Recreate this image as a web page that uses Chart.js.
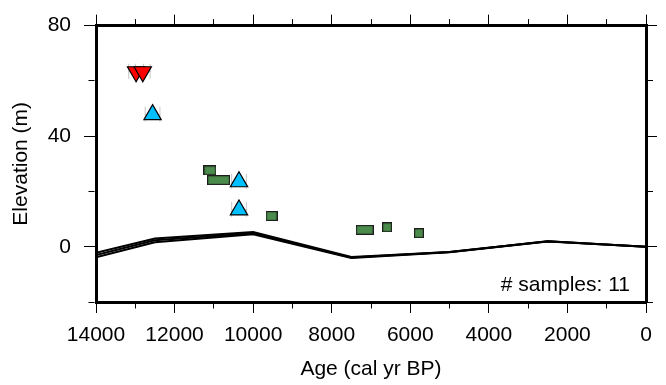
<!DOCTYPE html>
<html>
<head>
<meta charset="utf-8">
<script src="https://cdn.jsdelivr.net/npm/chart.js@4.4.0/dist/chart.umd.min.js"></script>
<style>
  body { margin: 0; background: #fff; }
</style>
</head>
<body>
<canvas id="sealevel" width="666" height="385"></canvas>
<script>
// modelled sea-level curve (three runs)
var curveAge  = [14000, 12500, 10000, 7500, 5000, 2500, 0];
var curveHigh = [-2.2, 3.0, 5.3, -3.7, -1.9, 2.0, 0.0];
var curveMid  = [-3.0, 2.3, 4.9, -3.9, -1.9, 2.0, 0.0];
var curveLow  = [-3.8, 1.6, 4.5, -4.1, -2.0, 1.9, 0.0];

// samples
var redAge   = [12980, 12810];
var redElev  = [63.3, 63.3];
var blueAge  = [12560, 10360, 10360];
var blueElev = [47.8, 23.5, 13.3];
var greenAge     = [11100, 10880, 9530, 7160, 6590, 5780];
var greenElev    = [27.6, 24.1, 11.1, 6.1, 7.0, 4.9];
var greenAgeSpan = [330, 590, 300, 460, 250, 250];
var triAgeErr = 200;

// tick labels
var ageTickLabels  = [14000, 12000, 10000, 8000, 6000, 4000, 2000, 0];
var elevTickLabels = [80, 40, 0];

Chart.defaults.font.family = 'Liberation Sans';
Chart.defaults.font.size = 21;
Chart.defaults.color = '#000';

function pts(xs, ys) {
    return xs.map(function (x, i) { return { x: x, y: ys[i] }; });
}

function isMajorAge(v) { return ageTickLabels.indexOf(v) >= 0; }
function isMajorElev(v) { return elevTickLabels.indexOf(v) >= 0; }

// green boxes are as wide as their age span
function boxStyle(ctx) {
    if (ctx.dataIndex === undefined) return 'rect';
    var xs = ctx.chart.scales.x;
    var a = greenAge[ctx.dataIndex], s = greenAgeSpan[ctx.dataIndex];
    var w = Math.round(Math.abs(xs.getPixelForValue(a + s / 2) - xs.getPixelForValue(a - s / 2)));
    if (!isFinite(w) || w < 4) w = 10;
    var h = 10;
    var cv = document.createElement('canvas');
    cv.width = w; cv.height = h;
    var c = cv.getContext('2d');
    c.fillStyle = '#4b8b4b';
    c.fillRect(0, 0, w, h);
    c.strokeStyle = '#1c1c1c';
    c.lineWidth = 1.2;
    c.strokeRect(0.6, 0.6, w - 1.2, h - 1.2);
    return cv;
}

var errorBars = {
    id: 'errorBars',
    beforeDatasetsDraw: function (chart) {
        var c = chart.ctx, xs = chart.scales.x, ys = chart.scales.y;
        var ages = redAge.concat(blueAge), elevs = redElev.concat(blueElev);
        c.save();
        c.strokeStyle = '#c6c6c6';
        c.lineWidth = 1;
        ages.forEach(function (a, i) {
            var y = ys.getPixelForValue(elevs[i]);
            var x1 = xs.getPixelForValue(a + triAgeErr), x2 = xs.getPixelForValue(a - triAgeErr);
            c.beginPath();
            c.moveTo(x1, y); c.lineTo(x2, y);
            c.moveTo(x1 + 0.5, y - 8); c.lineTo(x1 + 0.5, y + 7);
            c.moveTo(x2 - 0.5, y - 8); c.lineTo(x2 - 0.5, y + 7);
            c.stroke();
        });
        c.restore();
    }
};

var sampleCount = {
    id: 'sampleCount',
    afterDraw: function (chart) {
        var c = chart.ctx, area = chart.chartArea;
        var n = redAge.length + blueAge.length + greenAge.length;
        c.save();
        c.font = '21px "Liberation Sans"';
        c.fillStyle = '#000';
        c.textAlign = 'right';
        c.textBaseline = 'alphabetic';
        c.fillText('# samples: ' + n, area.right - 16, area.bottom - 11.5);
        c.restore();
    }
};

function curve(vals) {
    return {
        data: pts(curveAge, vals),
        showLine: true,
        borderColor: '#000',
        borderWidth: 2,
        pointRadius: 0,
        order: 5
    };
}

var frame = { display: true, color: '#000', width: 3 };

var ctx = document.getElementById('sealevel').getContext('2d');

var sealevelChart = new Chart(ctx, {
    type: 'scatter',
    data: {
        datasets: [
            curve(curveHigh),
            curve(curveMid),
            curve(curveLow),
            {
                data: pts(greenAge, greenElev),
                pointStyle: boxStyle,
                pointRadius: 5,
                order: 3
            },
            {
                data: pts(blueAge, blueElev),
                pointStyle: 'triangle',
                pointRadius: 10,
                backgroundColor: '#00bfff',
                borderColor: '#000',
                borderWidth: 1.2,
                order: 2
            },
            {
                data: pts(redAge, redElev),
                pointStyle: 'triangle',
                rotation: 180,
                pointRadius: 10,
                backgroundColor: '#ff0000',
                borderColor: '#000',
                borderWidth: 1.2,
                order: 1
            }
        ]
    },
    options: {
        responsive: false,
        animation: false,
        plugins: {
            legend: { display: false },
            tooltip: { enabled: false }
        },
        layout: { padding: 0 },
        scales: {
            x: {
                type: 'linear', position: 'bottom',
                min: 0, max: 14000, reverse: true,
                ticks: {
                    stepSize: 1000, autoSkip: false, maxRotation: 0, padding: 10,
                    callback: function (v) { return isMajorAge(v) ? String(v) : ''; }
                },
                grid: {
                    drawOnChartArea: false, tickLength: 11, tickColor: '#000', tickWidth: 1,
                    tickBorderDash: function (c) { return isMajorAge(c.tick.value) ? [] : [4.5, 100]; }
                },
                border: frame,
                title: { display: true, text: 'Age (cal yr BP)', padding: { top: 0, bottom: 3 } },
                afterFit: function (s) { s.height = 83; }
            },
            xTop: {
                type: 'linear', position: 'top',
                min: 0, max: 14000, reverse: true,
                ticks: { stepSize: 1000, autoSkip: false, display: false },
                grid: {
                    drawOnChartArea: false, tickLength: 11, tickColor: '#000', tickWidth: 1,
                    tickBorderDash: function (c) { return isMajorAge(c.tick.value) ? [] : [0, 4.5, 5, 100]; }
                },
                border: frame,
                afterFit: function (s) { s.height = 19.5; }
            },
            y: {
                type: 'linear', position: 'left',
                min: -20, max: 80,
                ticks: {
                    stepSize: 20, autoSkip: false, padding: 13,
                    callback: function (v) { return isMajorElev(v) ? String(v) : ''; }
                },
                grid: {
                    drawOnChartArea: false, tickLength: 12, tickColor: '#000', tickWidth: 1,
                    tickBorderDash: function (c) { return isMajorElev(c.tick.value) ? [] : [0, 4.5, 6, 100]; }
                },
                border: frame,
                title: { display: true, text: 'Elevation (m)', padding: { top: 9, bottom: 0 } },
                afterFit: function (s) { s.width = 96; }
            },
            yRight: {
                type: 'linear', position: 'right',
                min: -20, max: 80,
                ticks: { stepSize: 20, autoSkip: false, display: false },
                grid: {
                    drawOnChartArea: false, tickLength: 11, tickColor: '#000', tickWidth: 1,
                    tickBorderDash: function (c) { return isMajorElev(c.tick.value) ? [] : [5, 100]; }
                },
                border: frame,
                afterFit: function (s) { s.width = 20; }
            }
        }
    },
    plugins: [errorBars, sampleCount]
});
</script>
</body>
</html>
